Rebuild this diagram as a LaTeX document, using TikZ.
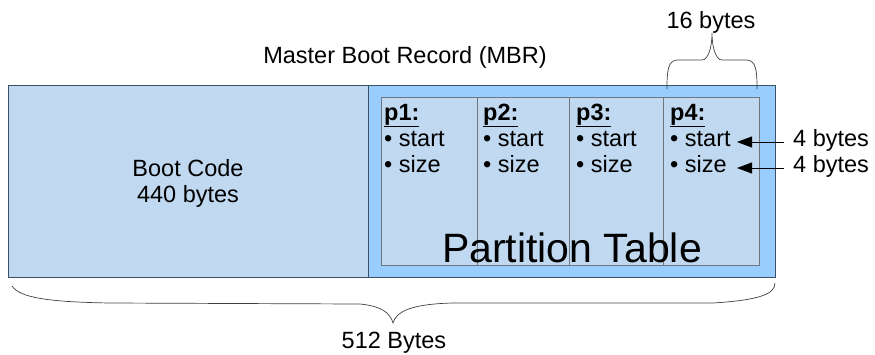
\documentclass[tikz,border=0pt]{standalone}
\usepackage{fontspec}
\setmainfont{Liberation Sans}
\usetikzlibrary{arrows.meta}
\definecolor{lightblue}{HTML}{C0D9F0}
\definecolor{midblue}{HTML}{99CCFF}
\definecolor{boxline}{HTML}{3E5064}
\definecolor{cellline}{HTML}{6E7680}
\definecolor{braceline}{HTML}{404040}
\begin{document}
\begin{tikzpicture}[x=1pt,y=-1pt,
  txt/.style={font=\fontsize{23.5}{27}\selectfont, inner sep=0pt, anchor=base},
  ltxt/.style={txt, anchor=base west},
  outerbox/.style={draw=boxline, line width=0.9pt, inner sep=0pt, anchor=north west},
  cell/.style={draw=cellline, line width=0.8pt, fill=lightblue, inner sep=0pt, anchor=north west, minimum height=168pt},
  brc/.style={draw=braceline, line width=0.7pt},
  arr/.style={draw=black, line width=0.8pt, -{Triangle[length=15pt,width=11pt]}}]
\useasboundingbox (0,0) rectangle (875,354);
% boxes
\node[outerbox, fill=lightblue, minimum width=360pt, minimum height=192pt] (boot) at (8,85) {};
\node[outerbox, fill=midblue, minimum width=407pt, minimum height=192pt] (mbr) at (368,85) {};
\node[cell, minimum width=96pt] (c1) at (381,97) {};
\node[cell, minimum width=92pt] (c2) at (477,97) {};
\node[cell, minimum width=94pt] (c3) at (569,97) {};
\node[cell, minimum width=96pt] (c4) at (663,97) {};
% texts
\node[txt] (t16) at (711,28) {16 bytes};
\node[txt] (tmbr) at (405,63) {Master Boot Record (MBR)};
\node[txt] (bc1) at (188,176) {Boot Code};
\node[txt] (bc2) at (188,202) {440 bytes};
\foreach \i/\x in {1/384,2/483,3/576,4/670}{
  \node[ltxt, font=\fontsize{23.5}{27}\selectfont\bfseries] (p\i) at (\x,120) {\underline{p\i:}};
  \node[ltxt] (st\i) at (\x,146) {• start};
  \node[ltxt] (sz\i) at (\x,172) {• size};
}
\node[txt, font=\fontsize{41}{46}\selectfont] (pt) at (572,262) {Partition Table};
\node[ltxt] (b1) at (793,146) {4 bytes};
\node[ltxt] (b2) at (793,172) {4 bytes};
\node[txt] (t512) at (394,348) {512 Bytes};
% arrows
\coordinate (a1) at (737,142);
\coordinate (a2) at (737,168);
\draw[arr] (b1.west |- a1) ++(-9,0) -- (a1);
\draw[arr] (b2.west |- a2) ++(-9,0) -- (a2);
% top brace
\draw[brc] (667,89) .. controls (667,70) and (668,61) .. (677,60) -- (702,60)
  .. controls (708,60) and (712,48) .. (712,33)
  .. controls (712,48) and (716,60) .. (722,60) -- (747,60)
  .. controls (756,61) and (757,70) .. (757,89);
% bottom brace
\draw[brc] (12,286) .. controls (20,298) and (50,302) .. (110,303) -- (360,304)
  .. controls (380,306) and (390,312) .. (393,323)
  .. controls (396,312) and (410,304) .. (453,303) -- (713,303)
  .. controls (760,300) and (775,294) .. (775,283);
\end{tikzpicture}
\end{document}
